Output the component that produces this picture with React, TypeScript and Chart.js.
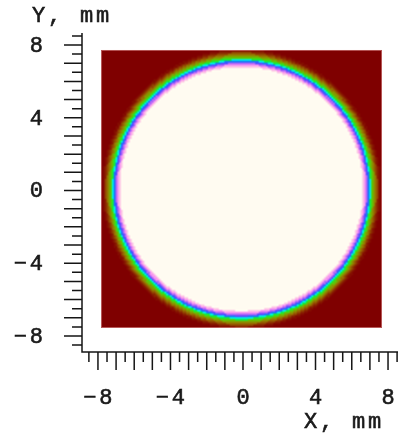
import React, { useEffect, useRef } from "react";
import { Chart, registerables } from "chart.js";
Chart.register(...registerables);

// Axis ranges and labels
const X_RANGE = [-8.88, 8.55];
const Y_RANGE = [-8.88, 8.66];
const X_TICK_LABELS = [-8, -4, 0, 4, 8];
const Y_TICK_LABELS = [-8, -4, 0, 4, 8];
const TICK_STEP = 0.5;
const X_TITLE = "X, mm";
const Y_TITLE = "Y, mm";

// Heatmap grid (mm)
const GRID_X = [-7.83, 7.67];
const GRID_Y = [-7.56, 7.73];
const GRID_CELL = 0.1;
const BEAM_CENTER = [-0.08, 0.08];

// Radial intensity profile (radius mm -> level 0..1)
const PROFILE_R = [0, 6.7, 6.78, 6.86, 6.94, 7.0, 7.06, 7.12, 7.2, 7.28, 7.36, 7.44, 7.52, 7.6, 7.7];
const PROFILE_V = [1, 0.9, 0.82, 0.74, 0.66, 0.6, 0.55, 0.49, 0.42, 0.35, 0.28, 0.2, 0.12, 0.05, 0];

// Colour map stops: [position, r, g, b]
const COLOR_STOPS: number[][] = [
  [0.0, 127, 0, 0],
  [0.1, 135, 25, 0],
  [0.2, 145, 70, 0],
  [0.3, 150, 120, 0],
  [0.4, 110, 190, 0],
  [0.48, 20, 235, 40],
  [0.55, 0, 235, 225],
  [0.62, 40, 70, 255],
  [0.72, 160, 90, 250],
  [0.82, 245, 150, 240],
  [0.92, 255, 215, 228],
  [1.0, 255, 251, 241],
];

function levelAt(r: number): number {
  let v = PROFILE_V[0];
  for (let k = 0; k < PROFILE_R.length; k++) {
    if (r >= PROFILE_R[k]) v = PROFILE_V[k];
  }
  return v;
}

function colorOf(v: number): number[] {
  for (let k = 1; k < COLOR_STOPS.length; k++) {
    const a = COLOR_STOPS[k - 1];
    const b = COLOR_STOPS[k];
    if (v <= b[0]) {
      const t = (v - a[0]) / (b[0] - a[0] || 1);
      return [a[1] + (b[1] - a[1]) * t, a[2] + (b[2] - a[2]) * t, a[3] + (b[3] - a[3]) * t];
    }
  }
  const l = COLOR_STOPS[COLOR_STOPS.length - 1];
  return [l[1], l[2], l[3]];
}

let heatCache: HTMLCanvasElement | null = null;
function heatImage(): HTMLCanvasElement {
  if (heatCache) return heatCache;
  const nx = Math.round((GRID_X[1] - GRID_X[0]) / GRID_CELL);
  const ny = Math.round((GRID_Y[1] - GRID_Y[0]) / GRID_CELL);
  const dx = (GRID_X[1] - GRID_X[0]) / nx;
  const dy = (GRID_Y[1] - GRID_Y[0]) / ny;
  const off = document.createElement("canvas");
  off.width = nx;
  off.height = ny;
  const octx = off.getContext("2d")!;
  const img = octx.createImageData(nx, ny);
  for (let j = 0; j < ny; j++) {
    const y = GRID_Y[1] - (j + 0.5) * dy;
    for (let i = 0; i < nx; i++) {
      const x = GRID_X[0] + (i + 0.5) * dx;
      const r = Math.hypot(x - BEAM_CENTER[0], y - BEAM_CENTER[1]);
      const c = colorOf(levelAt(r));
      const p = (j * nx + i) * 4;
      img.data[p] = c[0];
      img.data[p + 1] = c[1];
      img.data[p + 2] = c[2];
      img.data[p + 3] = 255;
    }
  }
  octx.putImageData(img, 0, 0);
  heatCache = off;
  return off;
}

const FONT = "22px 'Liberation Mono', 'Courier New', monospace";
const SPACING = 2.8;
const fmt = (v: number) => (v < 0 ? "\u2212" + Math.abs(v) : String(v));

const drawPlugin = {
  id: "heatAxes",
  beforeDatasetsDraw(chart: any) {
    const ctx: CanvasRenderingContext2D = chart.ctx;
    const xs = chart.scales.x;
    const ys = chart.scales.y;
    const area = chart.chartArea;
    ctx.save();
    // heatmap
    const px0 = xs.getPixelForValue(GRID_X[0]);
    const px1 = xs.getPixelForValue(GRID_X[1]);
    const py0 = ys.getPixelForValue(GRID_Y[1]);
    const py1 = ys.getPixelForValue(GRID_Y[0]);
    ctx.imageSmoothingEnabled = true;
    (ctx as any).imageSmoothingQuality = "high";
    ctx.drawImage(heatImage(), px0, py0, px1 - px0, py1 - py0);
    ctx.strokeStyle = "rgba(255,200,200,0.45)";
    ctx.lineWidth = 1;
    ctx.strokeRect(px0 + 0.5, py0 + 0.5, px1 - px0 - 1, py1 - py0 - 1);

    // axis lines
    ctx.strokeStyle = "#151515";
    ctx.lineWidth = 1.5;
    ctx.beginPath();
    ctx.moveTo(area.left, area.top);
    ctx.lineTo(area.left, area.bottom);
    ctx.lineTo(area.right, area.bottom);
    ctx.stroke();

    // ticks
    ctx.beginPath();
    for (let v = Math.ceil(X_RANGE[0] / TICK_STEP) * TICK_STEP; v <= X_RANGE[1] + 1e-9; v += TICK_STEP) {
      const major = Math.abs(v - Math.round(v)) < 1e-6;
      const px = xs.getPixelForValue(v);
      ctx.moveTo(px, area.bottom);
      ctx.lineTo(px, area.bottom + (major ? 18 : 10));
    }
    for (let v = Math.ceil(Y_RANGE[0] / TICK_STEP) * TICK_STEP; v <= Y_RANGE[1] + 1e-9; v += TICK_STEP) {
      const major = Math.abs(v - Math.round(v)) < 1e-6;
      const py = ys.getPixelForValue(v);
      ctx.moveTo(area.left, py);
      ctx.lineTo(area.left - (major ? 18 : 10), py);
    }
    ctx.stroke();

    // labels
    ctx.fillStyle = "#1a1a1a";
    ctx.strokeStyle = "#1a1a1a";
    ctx.lineWidth = 0.6;
    ctx.font = FONT;
    (ctx as any).letterSpacing = SPACING + "px";
    ctx.textBaseline = "middle";
    const put = (t: string, x: number, y: number) => {
      ctx.fillText(t, x, y);
      ctx.strokeText(t, x, y);
    };
    ctx.textAlign = "right";
    for (const v of Y_TICK_LABELS) {
      put(fmt(v), 43 + SPACING, ys.getPixelForValue(v) + 1);
    }
    ctx.textAlign = "center";
    for (const v of X_TICK_LABELS) {
      put(fmt(v), xs.getPixelForValue(v) + SPACING / 2, 398);
    }
    ctx.textAlign = "left";
    put(Y_TITLE, 32, 16);
    put(X_TITLE, 304, 422);
    ctx.restore();
  },
};

export default function App() {
  const ref = useRef<HTMLCanvasElement | null>(null);
  useEffect(() => {
    if (!ref.current) return;
    const chart = new Chart(ref.current, {
      type: "scatter",
      data: { datasets: [{ data: [] }] },
      options: {
        animation: false,
        responsive: false,
        devicePixelRatio: 1,
        layout: { padding: { left: 82, top: 33, right: 0, bottom: 82 } },
        plugins: { legend: { display: false }, tooltip: { enabled: false } },
        scales: {
          x: { type: "linear", min: X_RANGE[0], max: X_RANGE[1], display: false },
          y: { type: "linear", min: Y_RANGE[0], max: Y_RANGE[1], display: false },
        },
      },
      plugins: [drawPlugin],
    });
    return () => chart.destroy();
  }, []);
  return (
    <div style={{ position: "absolute", left: 0, top: 0, width: 398, height: 434, background: "#fff" }}>
      <canvas ref={ref} width={398} height={434} />
    </div>
  );
}
